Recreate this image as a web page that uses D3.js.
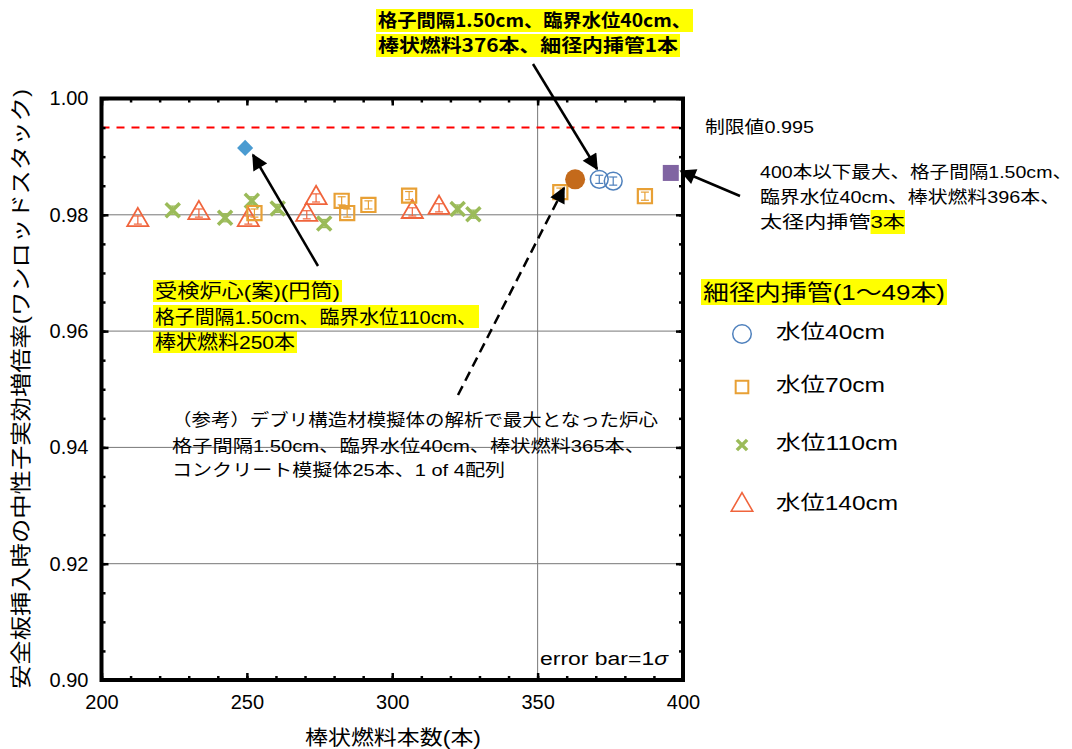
<!DOCTYPE html>
<html>
<head>
<meta charset="utf-8">
<script src="https://d3js.org/d3.v7.min.js"></script>
<style>
  body { margin: 0; background: #fff; }
  svg text { font-family: "Liberation Sans", "Noto Sans CJK JP", sans-serif; fill: #000; }
  text.bold { font-family: "Noto Sans CJK JP", sans-serif; font-weight: 700; }
</style>
</head>
<body>
<svg width="1072" height="749"></svg>
<script>
// ---- data ----
var n40 = [371.2, 376.0];
var k40 = [0.9861, 0.9858];
var n70 = [252.6, 282.6, 284.5, 291.8, 305.8, 357.8, 386.9];
var k70 = [0.9803, 0.9824, 0.9803, 0.9817, 0.9833, 0.9839, 0.9832];
var n110 = [224.5, 242.5, 251.7, 260.6, 276.6, 322.5, 327.9];
var k110 = [0.9808, 0.9795, 0.9824, 0.9811, 0.9785, 0.9810, 0.9801];
var n140 = [212.5, 233.5, 250.5, 270.6, 273.8, 306.9, 316.1];
var k140 = [0.9791, 0.9803, 0.9791, 0.9800, 0.9829, 0.9805, 0.9812];
var sigma = 0.0007;

var refCore = { n: 249.4, k: 0.9915 };     // 受検炉心(案)
var debrisCore = { n: 362.9, k: 0.9861 };  // (参考)デブリ構造材
var max400 = { n: 395.8, k: 0.9872 };      // 400本以下最大
var limit = 0.995;

var xTicks = [200, 250, 300, 350, 400];
var yTicks = [0.90, 0.92, 0.94, 0.96, 0.98, 1.00];

var svg = d3.select("svg");
svg.append("rect").attr("width", 1072).attr("height", 749).attr("fill", "#fff");
var hlLayer = svg.append("g");   // yellow highlights go under everything

var x = d3.scaleLinear().domain([200, 400]).range([101.5, 683]);
var y = d3.scaleLinear().domain([0.90, 1.00]).range([680, 98.5]);

// grid
var grid = svg.append("g").attr("stroke", "#777").attr("stroke-width", 1);
[0.92, 0.94, 0.96, 0.98].forEach(function (v) {
    grid.append("line").attr("x1", x(200)).attr("x2", x(400)).attr("y1", y(v)).attr("y2", y(v));
});
grid.append("line").attr("x1", x(350)).attr("x2", x(350)).attr("y1", y(0.90)).attr("y2", y(1.00));

// limit line
svg.append("line")
    .attr("x1", x(200)).attr("x2", x(400))
    .attr("y1", y(limit)).attr("y2", y(limit))
    .attr("stroke", "#f00").attr("stroke-width", 2).attr("stroke-dasharray", "8,7");

// axes, ticks inward on all sides
var xMinor = d3.range(200, 401, 10), yMinor = d3.range(0, 21).map(function (i) { return 0.90 + i * 0.005; });
function addAxis(axisFn, scale, pos, minor, major, labels, pad) {
    var gMinor = svg.append("g").attr("transform", pos)
        .call(axisFn(scale).tickValues(minor).tickSize(-4).tickFormat(""));
    var gMajor = svg.append("g").attr("transform", pos)
        .call(axisFn(scale).tickValues(major).tickSize(-7).tickPadding(pad || 0)
            .tickFormat(labels ? labels : ""));
    [gMinor, gMajor].forEach(function (g) {
        g.select(".domain").remove();
        g.selectAll(".tick line").attr("stroke", "#000").attr("stroke-width", 2.5);
        g.selectAll(".tick text").attr("font-size", 20).attr("fill", "#000");
    });
}
addAxis(d3.axisLeft, y, "translate(" + x(200) + ",0)", yMinor, yTicks, d3.format(".2f"), 13);
addAxis(d3.axisRight, y, "translate(" + x(400) + ",0)", yMinor, yTicks, null);
addAxis(d3.axisBottom, x, "translate(0," + y(0.90) + ")", xMinor, xTicks, d3.format("d"), 15);
addAxis(d3.axisTop, x, "translate(0," + y(1.00) + ")", xMinor, xTicks, null);

svg.append("rect")
    .attr("x", x(200)).attr("y", y(1.00))
    .attr("width", x(400) - x(200)).attr("height", y(0.90) - y(1.00))
    .attr("fill", "none").attr("stroke", "#000").attr("stroke-width", 4);

// axis titles
svg.append("text").attr("x", 393).attr("y", 738).attr("dy", "0.35em")
    .attr("text-anchor", "middle").attr("font-size", 20)
    .attr("textLength", 176).attr("lengthAdjust", "spacingAndGlyphs")
    .text("棒状燃料本数(本)");
svg.append("text").attr("transform", "translate(21,389) rotate(-90)").attr("dy", "0.35em")
    .attr("text-anchor", "middle").attr("font-size", 21)
    .attr("textLength", 600).attr("lengthAdjust", "spacingAndGlyphs")
    .text("安全板挿入時の中性子実効増倍率(ワンロッドスタック)");

// series
var colors = { c40: "#4f81bd", c70: "#e8a035", c110: "#9bbb59", c140: "#f0643c" };
function errBars(ns, ks, color) {
    var g = svg.append("g").attr("stroke", color).attr("stroke-width", 1.2);
    ns.forEach(function (n, i) {
        var cx = x(n), y1 = y(ks[i] - sigma), y2 = y(ks[i] + sigma);
        g.append("line").attr("x1", cx).attr("x2", cx).attr("y1", y1).attr("y2", y2);
        g.append("line").attr("x1", cx - 4).attr("x2", cx + 4).attr("y1", y1).attr("y2", y1);
        g.append("line").attr("x1", cx - 4).attr("x2", cx + 4).attr("y1", y2).attr("y2", y2);
    });
}
function series(ns, ks, color, sym, size, sw) {
    errBars(ns, ks, color);
    svg.append("g").selectAll("path").data(ns).enter().append("path")
        .attr("d", d3.symbol().type(sym).size(size))
        .attr("transform", function (n, i) { return "translate(" + x(n) + "," + y(ks[i]) + ")"; })
        .attr("fill", "none").attr("stroke", color).attr("stroke-width", sw);
}
series(n140, k140, colors.c140, d3.symbolTriangle2, 320, 1.8);
series(n110, k110, colors.c110, d3.symbolTimes, 130, 3.5);
series(n70, k70, colors.c70, d3.symbolSquare, 200, 2.2);
series(n40, k40, colors.c40, d3.symbolCircle, 250, 1.5);

svg.append("circle").attr("cx", x(debrisCore.n)).attr("cy", y(debrisCore.k)).attr("r", 10)
    .attr("fill", "#c46a1b");
svg.append("path").attr("d", d3.symbol().type(d3.symbolSquare).size(130))
    .attr("transform", "translate(" + x(refCore.n) + "," + y(refCore.k) + ") rotate(45)")
    .attr("fill", "#4a9bd1");
svg.append("rect").attr("x", x(max400.n) - 8).attr("y", y(max400.k) - 8)
    .attr("width", 16).attr("height", 16).attr("fill", "#8064a2");

// ---- annotations ----
function label(px, py, s, opt) {
    var t = svg.append("text").attr("x", px).attr("y", py).attr("dy", "0.35em")
        .attr("font-size", opt.size).text(s);
    if (opt.bold) t.attr("class", "bold");
    if (opt.w) t.attr("textLength", opt.w).attr("lengthAdjust", "spacingAndGlyphs");
    if (opt.hl) {
        hlLayer.append("rect")
            .attr("x", px - 2).attr("y", py - opt.hl[0]).attr("width", opt.w + 4)
            .attr("height", opt.hl[0] + opt.hl[1]).attr("fill", "#ffff00");
    }
    return t;
}

label(378, 21, "格子間隔1.50cm、臨界水位40cm、", { size: 18, w: 313, bold: true, hl: [12, 11] });
label(378, 46, "棒状燃料376本、細径内挿管1本", { size: 18, w: 300, bold: true, hl: [12, 11] });

label(705, 127, "制限値0.995", { size: 17, w: 109 });

label(760, 172, "400本以下最大、格子間隔1.50cm、", { size: 17, w: 312 });
label(760, 197, "臨界水位40cm、棒状燃料396本、", { size: 17, w: 300 });
var last = label(760, 222, "太径内挿管3本", { size: 17, w: 145 });
var p0 = last.node().getStartPositionOfChar(5).x, p1 = last.node().getEndPositionOfChar(6).x;
hlLayer.append("rect").attr("x", p0).attr("y", 210).attr("width", p1 - p0).attr("height", 24)
    .attr("fill", "#ffff00");

label(155, 291, "受検炉心(案)(円筒)", { size: 19, w: 185, hl: [11, 11] });
label(155, 317, "格子間隔1.50cm、臨界水位110cm、", { size: 19, w: 322, hl: [12, 11] });
label(155, 342, "棒状燃料250本", { size: 19, w: 140, hl: [11, 11] });

label(172, 420, "（参考）デブリ構造材模擬体の解析で最大となった炉心", { size: 17, w: 486 });
label(172, 446, "格子間隔1.50cm、臨界水位40cm、棒状燃料365本、", { size: 17, w: 473 });
label(172, 470, "コンクリート模擬体25本、1 of 4配列", { size: 17, w: 333 });

var eb = svg.append("text").attr("x", 540).attr("y", 659).attr("dy", "0.35em").attr("font-size", 18)
    .attr("textLength", 128).attr("lengthAdjust", "spacingAndGlyphs");
eb.append("tspan").text("error bar=1");
eb.append("tspan").attr("font-style", "italic").text("σ");

// legend
label(703, 292, "細径内挿管(1〜49本)", { size: 22, w: 242, hl: [13, 13] });
var legendItems = [
    { name: "水位40cm", color: colors.c40, sym: d3.symbolCircle, size: 270, sw: 1.5, y: 334, w: 109 },
    { name: "水位70cm", color: colors.c70, sym: d3.symbolSquare, size: 160, sw: 2, y: 387, w: 109 },
    { name: "水位110cm", color: colors.c110, sym: d3.symbolTimes, size: 70, sw: 3.5, y: 445, w: 122 },
    { name: "水位140cm", color: colors.c140, sym: d3.symbolTriangle2, size: 330, sw: 1.6, y: 505, w: 122 }
];
legendItems.forEach(function (d) {
    svg.append("path").attr("d", d3.symbol().type(d.sym).size(d.size))
        .attr("transform", "translate(742," + d.y + ")")
        .attr("fill", "none").attr("stroke", d.color).attr("stroke-width", d.sw);
    label(776, d.y - 2, d.name, { size: 20, w: d.w });
});

// arrows
var defs = svg.append("defs");
defs.append("marker").attr("id", "ah").attr("viewBox", "0 0 10 10")
    .attr("refX", 9).attr("refY", 5).attr("markerWidth", 18).attr("markerHeight", 16)
    .attr("markerUnits", "userSpaceOnUse").attr("orient", "auto")
    .append("path").attr("d", "M0,0 L10,5 L0,10 Z").attr("fill", "#000");
function arrow(x1, y1, x2, y2, dashed) {
    var l = svg.append("line").attr("x1", x1).attr("y1", y1).attr("x2", x2).attr("y2", y2)
        .attr("stroke", "#000").attr("stroke-width", 2.5).attr("marker-end", "url(#ah)");
    if (dashed) l.attr("stroke-dasharray", "10,6");
}
arrow(533, 64, 597, 169);
arrow(318, 266, 253, 155);
arrow(740, 196, 681, 171);
arrow(458, 395, 564, 188, true);
</script>
</body>
</html>
